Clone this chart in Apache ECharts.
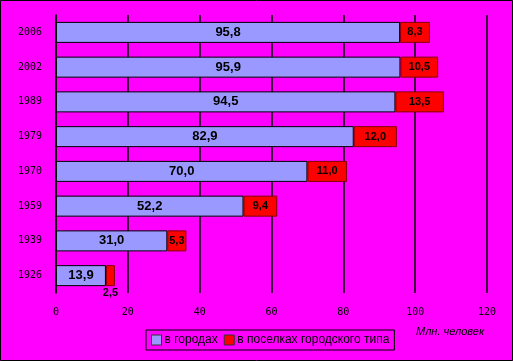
<!DOCTYPE html>
<html>
<head>
<meta charset="utf-8">
<script src="https://cdn.jsdelivr.net/npm/echarts@6/dist/echarts.min.js"></script>
<style>
html,body{margin:0;padding:0;background:#ff00ff;}
#chart{width:513px;height:361px;}
</style>
</head>
<body>
<div id="chart"></div>
<script>
const years = ['2006','2002','1989','1979','1970','1959','1939','1926'];
const urban = [95.8, 95.9, 94.5, 82.9, 70.0, 52.2, 31.0, 13.9];
const settlements = [8.3, 10.5, 13.5, 12.0, 11.0, 9.4, 5.3, 2.5];
const xTicks = [0, 20, 40, 60, 80, 100, 120];
const seriesNames = ['в городах', 'в поселках городского типа'];
const unitLabel = 'Млн. человек';

const fmt = p => p.value.toFixed(1).replace('.', ',');
const chart = echarts.init(document.getElementById('chart'), null, {renderer: 'canvas'});
chart.setOption({
  backgroundColor: '#ff00ff',
  animation: false,
  grid: {left: 56, right: 26, top: 15, bottom: 68},
  xAxis: {
    type: 'value', min: xTicks[0], max: xTicks[xTicks.length - 1], interval: 20,
    axisLine: {show: false},
    axisTick: {show: false},
    splitLine: {show: true, lineStyle: {color: '#000', width: 1.5}},
    axisLabel: {color: '#000', fontSize: 10, fontFamily: 'DejaVu Sans Mono', margin: 14}
  },
  yAxis: {
    type: 'category', data: years, inverse: true,
    axisLine: {show: true, lineStyle: {color: '#000', width: 1.5}},
    axisTick: {show: false},
    axisLabel: {color: '#000', fontSize: 10, fontFamily: 'DejaVu Sans Mono', margin: 14}
  },
  legend: {
    orient: 'horizontal',
    left: 146, top: 330,
    padding: [4, 5, 4, 5],
    borderColor: '#000', borderWidth: 1,
    itemWidth: 10, itemHeight: 10, itemGap: 6,
    icon: 'rect',
    itemStyle: {borderColor: '#333', borderWidth: 1},
    textStyle: {color: '#000', fontSize: 12, fontFamily: 'Liberation Sans', padding: [0, 0, 0, -2]},
    data: seriesNames
  },
  graphic: [
    {type: 'text', left: 416, top: 326, style: {text: unitLabel, fill: '#000', font: 'italic 11px Liberation Sans'}},
    {type: 'rect', shape: {x: 0.5, y: 0.5, width: 512, height: 360}, style: {fill: 'none', stroke: '#000', lineWidth: 1}, silent: true}
  ],
  series: [
    {
      name: seriesNames[0], type: 'bar', stack: 'total', barWidth: 21,
      data: urban,
      itemStyle: {color: '#9999ff', borderColor: '#000', borderWidth: 1},
      label: {show: true, position: 'inside', formatter: fmt, color: '#000', fontSize: 13, fontWeight: 'bold', fontFamily: 'Liberation Sans'}
    },
    {
      name: seriesNames[1], type: 'bar', stack: 'total', barWidth: 21,
      data: settlements.map(v => v < 4 ? {value: v, label: {position: 'bottom', distance: 1}} : v),
      itemStyle: {color: '#ff0000', borderColor: '#800000', borderWidth: 1},
      label: {show: true, position: 'inside', formatter: fmt, color: '#000', fontSize: 11, fontWeight: 'bold', fontFamily: 'Liberation Sans'}
    }
  ]
});
</script>
</body>
</html>
